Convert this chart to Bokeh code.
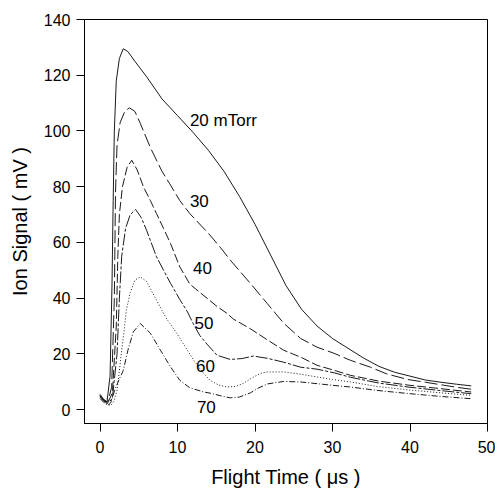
from bokeh.plotting import figure
from bokeh.models import Range1d, FixedTicker
from bokeh.core.properties import value
from bokeh.embed import file_html
from bokeh.resources import INLINE

# ---- data ----
t20 = [0.0, 0.5, 0.9, 1.3, 1.55, 1.7, 1.85, 2.1, 2.5, 3.0, 3.6, 4.5, 6.0, 8.0, 10.0, 12.0, 14.0, 16.0, 18.0, 20.0, 22.0, 24.0, 26.0, 28.0, 30.0, 32.0, 34.0, 36.0, 38.0, 40.0, 42.0, 44.0, 46.0, 47.9]
s20 = [5.5, 3.5, 2.8, 12, 45, 75, 100, 118, 126, 129.5, 128.5, 125, 119.5, 111.5, 105.5, 99.5, 93, 85.5, 76.5, 66.5, 55.5, 44.5, 36, 30, 25.5, 22, 18.5, 15.5, 13.4, 12.0, 10.6, 9.8, 9.1, 8.5]

t30 = [0.0, 0.5, 1.0, 1.5, 1.85, 2.0, 2.2, 2.6, 3.2, 3.8, 4.5, 5.2, 6.5, 8.0, 9.0, 10.3, 11.6, 14.0, 15.5, 17.0, 19.4, 21.6, 23.7, 25.9, 28.0, 30.2, 32.3, 34.9, 37.0, 39.7, 42.0, 44.0, 46.0, 47.9]
s30 = [5.0, 3.5, 2.6, 8, 40, 78, 95, 103, 107, 108.3, 107, 102.7, 94, 85.5, 81, 75, 70.3, 63.2, 58.3, 53, 45.3, 38, 31, 25.5, 22.4, 20.2, 17.7, 15.2, 12.8, 10.8, 9.8, 8.9, 8.0, 7.3]

t40 = [0.0, 0.5, 1.0, 1.6, 2.1, 2.3, 2.5, 2.9, 3.5, 4.1, 4.8, 5.6, 6.5, 7.3, 8.2, 9.1, 10.3, 11.6, 12.9, 13.8, 15.1, 16.4, 17.2, 19.4, 21.6, 23.7, 25.9, 28.0, 30.2, 32.3, 36.0, 40.0, 44.0, 47.9]
s40 = [5.0, 3.2, 2.4, 6, 30, 55, 70, 80, 87, 89.5, 86, 80, 75, 70.3, 65, 59.6, 51.2, 45, 42, 40, 37, 34.5, 32.5, 29, 25, 21.3, 18.8, 15.9, 14.1, 12.3, 10.2, 8.7, 7.5, 6.3]

t50 = [0.0, 0.5, 1.0, 1.6, 2.2, 2.5, 2.8, 3.3, 3.9, 4.6, 5.3, 6.0, 7.3, 8.2, 9.1, 10.3, 11.3, 12.0, 12.9, 13.8, 15.1, 16.8, 18.3, 19.8, 21.6, 23.7, 25.9, 28.0, 30.2, 32.3, 36.0, 40.0, 44.0, 47.9]
s50 = [4.8, 3.0, 2.2, 4, 20, 40, 55, 65, 70, 71.8, 69, 64.4, 54.8, 50, 45.3, 39.5, 35, 31, 26.5, 23.5, 19.5, 18, 18.3, 19.2, 18.4, 17, 15.2, 14.5, 13.2, 11.6, 9.5, 8.0, 6.8, 5.7]

t60 = [0.0, 0.5, 1.0, 1.4, 1.8, 2.2, 2.5, 2.8, 3.1, 3.4, 3.9, 4.5, 5.2, 6.0, 7.3, 8.5, 9.9, 11.0, 12.1, 13.2, 14.2, 15.3, 16.4, 17.5, 18.5, 19.5, 20.7, 21.6, 23.7, 25.9, 28.0, 30.0, 32.3, 36.0, 40.0, 44.0, 47.9]
s60 = [4.5, 2.8, 1.8, 1.5, 3, 7, 14, 21.3, 28, 35.6, 42, 46.5, 47.6, 46, 39.2, 33, 27.4, 22.5, 17.7, 13.5, 10.5, 8.8, 8.1, 8.3, 9.4, 11.2, 13, 13.5, 13.5, 12.7, 11.7, 10.8, 9.9, 8.2, 7.0, 6.0, 5.1]

t70 = [0.0, 0.5, 1.0, 1.4, 1.9, 2.5, 3.0, 3.6, 4.3, 5.2, 6.5, 7.8, 9.1, 10.3, 11.6, 13.4, 14.2, 15.5, 16.8, 18.0, 19.4, 20.5, 21.6, 23.7, 25.9, 28.0, 30.0, 32.3, 36.0, 40.0, 44.0, 47.9]
s70 = [4.0, 2.5, 1.5, 2.5, 7, 11, 14, 21.3, 27.9, 30.9, 27.4, 21.3, 15.3, 10.5, 7.8, 6.3, 5.9, 5.0, 4.2, 4.5, 6.0, 7.8, 9.2, 10.1, 9.9, 9.3, 8.7, 8.1, 6.8, 5.7, 4.7, 3.9]

label_text = ["20 mTorr", "30", "40", "50", "60", "70"]
label_x = [11.6, 11.6, 12.0, 12.2, 12.4, 12.5]
label_y = [103.8, 74.8, 50.7, 31.0, 15.6, 0.8]

x_ticks = [0, 10, 20, 30, 40, 50]
y_ticks = [0, 20, 40, 60, 80, 100, 120, 140]

# ---- figure ----
p = figure(width=495, height=493, output_backend="svg", toolbar_location=None,
           x_range=Range1d(-2, 50), y_range=Range1d(-5, 140),
           min_border_left=84, min_border_right=8, min_border_top=19, min_border_bottom=70)
p.background_fill_color = "white"
p.border_fill_color = "white"
p.outline_line_color = "black"
p.outline_line_width = 1
p.grid.visible = False

series = [
    (t20, s20, None),
    (t30, s30, "13 4"),
    (t40, s40, "9 3"),
    (t50, s50, "12 2 3 2"),
    (t60, s60, "1 2"),
    (t70, s70, "6 2 1 2"),
]
for xs, ys, dash in series:
    kw = dict(line_color="#1a1a1a", line_width=1)
    if dash:
        kw["line_dash"] = dash
    p.line(xs, ys, **kw)

p.text(x=label_x, y=label_y, text=label_text, text_font=value("Liberation Sans"),
       text_font_size="17px", text_baseline="middle", text_align="left", text_color="black")

for ax in (p.xaxis[0], p.yaxis[0]):
    ax.axis_line_color = "black"
    ax.major_tick_line_color = "black"
    ax.minor_tick_line_color = None
    ax.major_tick_out = 8
    ax.major_tick_in = 0
    ax.major_label_text_font = "Liberation Sans"
    ax.major_label_text_font_size = "16px"
    ax.major_label_text_color = "black"
    ax.axis_label_text_font = "Liberation Sans"
    ax.axis_label_text_font_size = "20px"
    ax.axis_label_text_font_style = "normal"
    ax.axis_label_text_color = "black"

p.xaxis.ticker = FixedTicker(ticks=x_ticks)
p.yaxis.ticker = FixedTicker(ticks=y_ticks)
p.xaxis.axis_label = "Flight Time ( \u03bcs )"
p.yaxis.axis_label = "Ion Signal ( mV )"
p.xaxis.major_label_standoff = 9
p.yaxis.major_label_standoff = 6
p.xaxis.axis_label_standoff = 10
p.yaxis.axis_label_standoff = 10

open("out.html", "w").write(file_html(p, INLINE))
